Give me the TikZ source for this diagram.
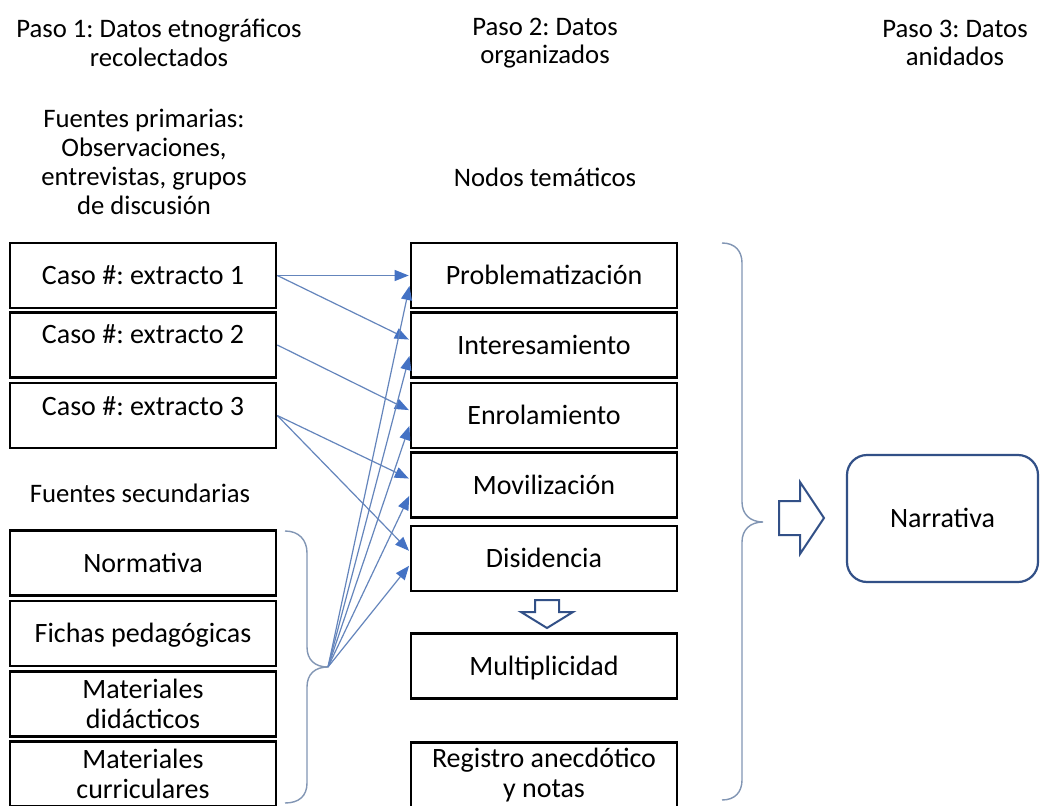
\documentclass[tikz,border=0pt]{standalone}
\usepackage{fontspec}
\setmainfont{Carlito}
\usetikzlibrary{arrows.meta}
\definecolor{arrowblue}{RGB}{68,114,196}
\definecolor{linkblue}{RGB}{100,133,188}
\definecolor{bracegray}{RGB}{130,150,180}
\definecolor{navy}{RGB}{50,80,135}
\frenchspacing
\begin{document}
\begin{tikzpicture}[x=1pt,y=-1pt,
  box/.style={draw=black, line width=2.6pt, minimum width=266pt, minimum height=65pt,
    inner sep=0pt, font=\fontsize{28}{30}\selectfont},
  cbox/.style={box, text height=18.5pt, text depth=0pt},
  tbox/.style={box, align=center},
  hdr/.style={align=center, inner sep=0pt, font=\fontsize{26.7}{28.5}\selectfont},
  link/.style={draw=linkblue, line width=1.2pt,
    -{Triangle[length=14pt,width=11pt,color=arrowblue]}, shorten >=1pt},
  brace/.style={draw=bracegray, line width=1.4pt},
  hollow/.style={draw=navy, line width=2pt, fill=white, line join=miter}
]
\useasboundingbox (0,0) rectangle (1040,805);
\fill[white] (0,0) rectangle (1040,805);

% headers
\node[hdr] (h1) at (159,43) {Paso 1: Datos etnográficos\\recolectados};
\node[hdr] (h2) at (545,43) {Paso 2: Datos\\organizados};
\node[hdr] (h3) at (955,43) {Paso 3: Datos\\anidados};
\node[hdr, font=\fontsize{26.7}{29}\selectfont] (prim) at (144,162) {Fuentes primarias:\\Observaciones,\\entrevistas, grupos\\de discusión};
\node[hdr] (nodos) at (545,177) {Nodos temáticos};
\node[hdr] (sec) at (140,493) {Fuentes secundarias};

% left column
\node[cbox] (c1) at (143,275.5) {Caso \#: extracto 1};
\node[box, text height=18.5pt, text depth=22pt] (c2) at (143,345) {Caso \#: extracto 2};
\node[box, text height=18.5pt, text depth=18.5pt] (c3) at (143,415.5) {Caso \#: extracto 3};
\node[cbox] (norm) at (143,563) {Normativa};
\node[cbox] (fich) at (143,633.5) {Fichas pedagógicas};
\node[tbox] (mdid) at (143,704) {Materiales\\didácticos};
\node[tbox] (mcur) at (143,774) {Materiales\\curriculares};

% middle column
\node[cbox] (prob) at (544,275.5) {Problematización};
\node[cbox] (inter) at (544,345) {Interesamiento};
\node[cbox] (enrol) at (544,415.5) {Enrolamiento};
\node[cbox] (movil) at (544,485) {Movilización};
\node[cbox] (disid) at (544,558.5) {Disidencia};
\node[cbox] (multi) at (544,666) {Multiplicidad};
\node[tbox] (regis) at (544,775) {Registro anecdótico\\y notas};

% right
\node[draw=navy, line width=2.2pt, rounded corners=20pt, minimum width=191pt,
  minimum height=127pt, inner sep=0pt, text height=18.5pt, text depth=0pt,
  font=\fontsize{28}{30}\selectfont] (narr) at (942.5,518.5) {Narrativa};

% braces
\draw[brace] (285,531) .. controls (299,531) and (307,540) .. (307,553) -- (307,647)
  .. controls (307,660) and (315,667) .. (328,667)
  .. controls (315,667) and (307,674) .. (307,687) -- (307,783)
  .. controls (307,796) and (299,803) .. (285,803);
\coordinate (tip) at (328,667);
\draw[brace] (722,243) .. controls (735,243) and (742,251) .. (742,263) -- (742,502)
  .. controls (742,514) and (750,522) .. (763,522)
  .. controls (750,522) and (742,530) .. (742,542) -- (742,780)
  .. controls (742,792) and (735,800) .. (722,800);

% connectors from cases
\draw[link] (c1.east) -- (prob.west);
\draw[link] (c1.east) -- ([yshift=5pt]inter.west);
\draw[link] (c2.east) -- ([yshift=5pt]enrol.west);
\draw[link] (c3.east) -- ([yshift=6pt]movil.west);
\draw[link] (c3.east) -- ([yshift=7pt]disid.west);

% connectors from secondary sources brace
\draw[link] (tip) -- ([yshift=-9.5pt]prob.west);
\draw[link] (tip) -- ([yshift=-10pt]inter.west);
\draw[link] (tip) -- ([yshift=-9.5pt]enrol.west);
\draw[link] (tip) -- ([yshift=-10pt]movil.west);
\draw[link] (tip) -- ([yshift=-6.5pt]disid.west);

% hollow block arrows
\draw[hollow] (535,600) -- (559,600) -- (559,612) -- (573,612) -- (547,628)
  -- (521,612) -- (535,612) -- cycle;
\draw[hollow] (779,501) -- (800,501) -- (800,482) -- (824,518) -- (800,554)
  -- (800,535) -- (779,535) -- cycle;
\end{tikzpicture}
\end{document}
